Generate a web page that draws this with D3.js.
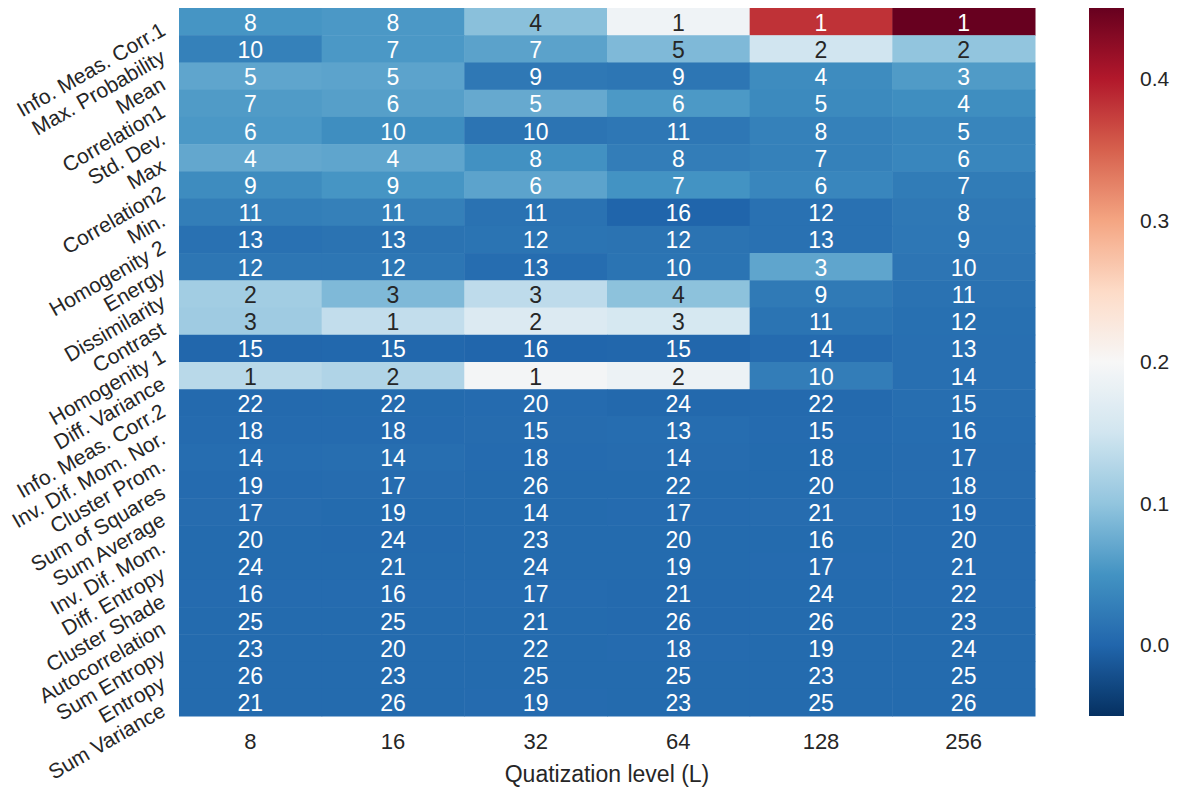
<!DOCTYPE html>
<html>
<head>
<meta charset="utf-8">
<script src="https://cdn.jsdelivr.net/npm/d3@7"></script>
<style>
  html, body { margin: 0; padding: 0; background: #ffffff; }
  svg { display: block; font-family: Arial, "Liberation Sans", sans-serif; }
</style>
</head>
<body>
<svg id="chart" width="1184" height="789"></svg>
<script>
// GLCM / first-order texture features (rows) vs. quantization level (columns)
const features = [
  "Info. Meas. Corr.1", "Max. Probability", "Mean", "Correlation1", "Std. Dev.",
  "Max", "Correlation2", "Min.", "Homogenity 2", "Energy", "Dissimilarity",
  "Contrast", "Homogenity 1", "Diff. Variance", "Info. Meas. Corr.2",
  "Inv. Dif. Mom. Nor.", "Cluster Prom.", "Sum of Squares", "Sum Average",
  "Inv. Dif. Mom.", "Diff. Entropy", "Cluster Shade", "Autocorrelation",
  "Sum Entropy", "Entropy", "Sum Variance"
];

const levels = ["8", "16", "32", "64", "128", "256"];

// Score of each feature at each quantization level (colour of the cell)
const scores = [
  [0.052, 0.055, 0.095, 0.190, 0.382, 0.450],
  [0.030, 0.055, 0.065, 0.088, 0.150, 0.100],
  [0.068, 0.066, 0.020, 0.018, 0.042, 0.058],
  [0.058, 0.062, 0.072, 0.056, 0.040, 0.044],
  [0.055, 0.044, 0.016, 0.019, 0.030, 0.034],
  [0.070, 0.068, 0.048, 0.026, 0.030, 0.036],
  [0.042, 0.052, 0.066, 0.050, 0.036, 0.024],
  [0.027, 0.029, 0.013, -0.001, 0.012, 0.020],
  [0.012, 0.014, 0.015, 0.014, 0.012, 0.019],
  [0.018, 0.018, 0.008, 0.015, 0.068, 0.017],
  [0.113, 0.088, 0.135, 0.097, 0.022, 0.013],
  [0.110, 0.138, 0.165, 0.157, 0.015, 0.011],
  [0.001, 0.002, 0.000, 0.001, 0.006, 0.010],
  [0.131, 0.124, 0.195, 0.185, 0.026, 0.010],
  [0.004, 0.005, 0.006, 0.003, 0.004, 0.009],
  [0.006, 0.006, 0.007, 0.008, 0.006, 0.008],
  [0.008, 0.009, 0.006, 0.007, 0.005, 0.007],
  [0.006, 0.007, 0.005, 0.005, 0.005, 0.007],
  [0.007, 0.005, 0.005, 0.006, 0.007, 0.006],
  [0.005, 0.004, 0.005, 0.005, 0.005, 0.006],
  [0.005, 0.005, 0.005, 0.005, 0.006, 0.006],
  [0.006, 0.006, 0.006, 0.004, 0.005, 0.006],
  [0.005, 0.005, 0.005, 0.004, 0.005, 0.005],
  [0.005, 0.005, 0.005, 0.006, 0.005, 0.005],
  [0.005, 0.005, 0.005, 0.005, 0.005, 0.005],
  [0.005, 0.005, 0.006, 0.005, 0.005, 0.005]
];

// Rank of each feature within its quantization level (annotation text)
const ranks = [
  [8, 8, 4, 1, 1, 1],
  [10, 7, 7, 5, 2, 2],
  [5, 5, 9, 9, 4, 3],
  [7, 6, 5, 6, 5, 4],
  [6, 10, 10, 11, 8, 5],
  [4, 4, 8, 8, 7, 6],
  [9, 9, 6, 7, 6, 7],
  [11, 11, 11, 16, 12, 8],
  [13, 13, 12, 12, 13, 9],
  [12, 12, 13, 10, 3, 10],
  [2, 3, 3, 4, 9, 11],
  [3, 1, 2, 3, 11, 12],
  [15, 15, 16, 15, 14, 13],
  [1, 2, 1, 2, 10, 14],
  [22, 22, 20, 24, 22, 15],
  [18, 18, 15, 13, 15, 16],
  [14, 14, 18, 14, 18, 17],
  [19, 17, 26, 22, 20, 18],
  [17, 19, 14, 17, 21, 19],
  [20, 24, 23, 20, 16, 20],
  [24, 21, 24, 19, 17, 21],
  [16, 16, 17, 21, 24, 22],
  [25, 25, 21, 26, 26, 23],
  [23, 20, 22, 18, 19, 24],
  [26, 23, 25, 25, 23, 25],
  [21, 26, 19, 23, 25, 26]
];

const colorbarTicks = [0.0, 0.1, 0.2, 0.3, 0.4];
const vmin = -0.05, vmax = 0.45;
const xTitle = "Quatization level (L)";

// RdBu reversed, piecewise-linear between the 11 ColorBrewer stops
const rdbu = ["#053061", "#2166ac", "#4393c3", "#92c5de", "#d1e5f0", "#f7f7f7",
              "#fddbc7", "#f4a582", "#d6604d", "#b2182b", "#67001f"];
const color = d3.scaleLinear()
  .domain(rdbu.map((_, i) => vmin + i * (vmax - vmin) / (rdbu.length - 1)))
  .range(rdbu)
  .interpolate(d3.interpolateRgb)
  .clamp(true);

const svg = d3.select("#chart");
const ink = "#262626";

const plot = { left: 179, right: 1035, top: 8, bottom: 716 };

const x = d3.scaleBand().domain(levels).range([plot.left, plot.right]);
const y = d3.scaleBand().domain(features).range([plot.top, plot.bottom]);

// pick dark or light annotation text from the cell colour's luminance
function relLum(c) {
  const rgb = d3.rgb(c);
  const lin = v => { v /= 255; return v <= 0.03928 ? v / 12.92 : Math.pow((v + 0.055) / 1.055, 2.4); };
  return 0.2126 * lin(rgb.r) + 0.7152 * lin(rgb.g) + 0.0722 * lin(rgb.b);
}

const cells = [];
features.forEach((f, i) => levels.forEach((l, j) => {
  cells.push({ feature: f, level: l, value: scores[i][j], rank: ranks[i][j] });
}));

const g = svg.append("g");
g.selectAll("rect.cell")
  .data(cells)
  .join("rect")
  .attr("class", "cell")
  .attr("x", d => x(d.level))
  .attr("y", d => y(d.feature))
  .attr("width", x.bandwidth() + 0.5)
  .attr("height", y.bandwidth() + 0.5)
  .attr("fill", d => color(d.value));

g.selectAll("text.annot")
  .data(cells)
  .join("text")
  .attr("class", "annot")
  .attr("x", d => x(d.level) + x.bandwidth() / 2)
  .attr("y", d => y(d.feature) + y.bandwidth() / 2 + 1)
  .attr("text-anchor", "middle")
  .attr("dominant-baseline", "central")
  .attr("font-size", 23)
  .attr("fill", d => relLum(color(d.value)) > 0.408 ? ink : "#ffffff")
  .text(d => d.rank);

// x axis: level labels under each column
const xAxis = svg.append("g")
  .attr("transform", `translate(0,${plot.bottom})`)
  .call(d3.axisBottom(x).tickSize(0).tickPadding(17));
xAxis.select(".domain").remove();
xAxis.selectAll("text").attr("font-size", 22).attr("fill", ink).attr("font-family", null);

svg.append("text")
  .attr("x", (plot.left + plot.right) / 2)
  .attr("y", 782)
  .attr("text-anchor", "middle")
  .attr("font-size", 23)
  .attr("fill", ink)
  .text(xTitle);

// y axis: rotated feature names, right end anchored near each row centre
const yAxis = svg.append("g")
  .attr("transform", `translate(${plot.left},0)`)
  .call(d3.axisLeft(y).tickSize(0).tickPadding(0));
yAxis.select(".domain").remove();
yAxis.selectAll("text")
  .attr("font-size", 21)
  .attr("fill", ink)
  .attr("font-family", null)
  .attr("x", 0)
  .attr("dy", null)
  .attr("dominant-baseline", "central")
  .attr("text-anchor", "end")
  .attr("transform", "translate(-16,6) rotate(-30)");

// colour bar
const cb = { left: 1089, width: 35, top: plot.top, bottom: plot.bottom };
const cScale = d3.scaleLinear().domain([vmin, vmax]).range([cb.bottom, cb.top]);

const defs = svg.append("defs");
const grad = defs.append("linearGradient")
  .attr("id", "cbar")
  .attr("x1", 0).attr("y1", 1).attr("x2", 0).attr("y2", 0);
d3.range(0, 1.0001, 0.02).forEach(t => {
  grad.append("stop")
    .attr("offset", t)
    .attr("stop-color", color(vmin + t * (vmax - vmin)));
});
svg.append("rect")
  .attr("x", cb.left)
  .attr("y", cb.top)
  .attr("width", cb.width)
  .attr("height", cb.bottom - cb.top)
  .attr("fill", "url(#cbar)");

const cAxis = svg.append("g")
  .attr("transform", `translate(${cb.left + cb.width},0)`)
  .call(d3.axisRight(cScale).tickValues(colorbarTicks).tickFormat(d3.format(".1f")).tickSize(0).tickPadding(16));
cAxis.select(".domain").remove();
cAxis.selectAll("text").attr("font-size", 21).attr("fill", ink).attr("font-family", null);
</script>
</body>
</html>
